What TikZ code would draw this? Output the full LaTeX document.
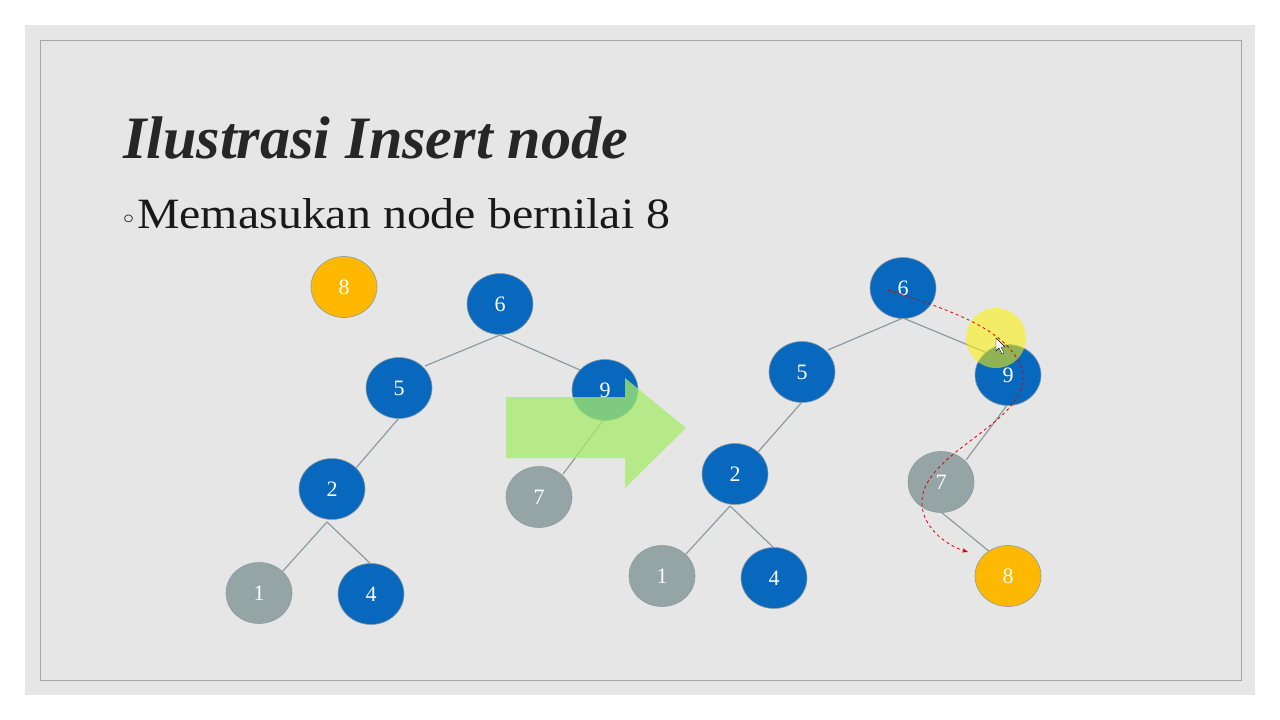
\documentclass[tikz,border=0pt]{standalone}
\usepackage{fontspec}
\setmainfont{Liberation Serif}
\newfontfamily\dv{DejaVu Sans}
\usetikzlibrary{shapes.geometric,arrows.meta}
\definecolor{nblue}{HTML}{0868BE}
\definecolor{ngray}{HTML}{95A5A6}
\definecolor{norange}{HTML}{FFB800}
\definecolor{slide}{HTML}{E6E6E6}
\definecolor{edge}{HTML}{8C9BA0}
\definecolor{garrow}{HTML}{A6EC6A}
\tikzset{
 tn/.style={ellipse,minimum width=66pt,minimum height=61pt,inner sep=0pt,text=white,font=\fontsize{22}{22}\selectfont,draw=edge,line width=0.6pt},
 bl/.style={tn,fill=nblue},
 gr/.style={tn,fill=ngray},
 og/.style={tn,fill=norange},
 ed/.style={draw=edge,line width=1.2pt}
}
\begin{document}
\begin{tikzpicture}[x=1pt,y=-1pt]
\useasboundingbox (0,0) rectangle (1280,720);
\fill[white] (0,0) rectangle (1280,720);
\fill[slide] (25,25) rectangle (1255,695);
\draw[gray!70,line width=0.8pt] (40,40) rectangle (1241,680);
\node[anchor=west,inner sep=0pt,text=black!85] (title) at (123,138) {\resizebox{505pt}{!}{\fontsize{56}{56}\selectfont\bfseries\itshape Ilustrasi Insert node}};
\node[anchor=west,inner sep=0pt,text=black!90] (sub) at (120,214) {\resizebox{550pt}{30pt}{\fontsize{40}{40}\selectfont{\dv\fontsize{24}{24}\selectfont ◦}Memasukan node bernilai 8}};
% left tree
\coordinate (l6b) at (500,335);
\coordinate (l2b) at (327,522);
\draw[ed] (l6b) -- (425,366);
\draw[ed] (l6b) -- (580,370);
\draw[ed] (399,418) -- (356,468);
\draw[ed] (l2b) -- (282,572);
\draw[ed] (l2b) -- (372,565);
\draw[ed] (605,418) -- (563,474);
\node[og] (a8) at (344,287) {8};
\node[bl] (a6) at (500,304) {6};
\node[bl] (a5) at (399,388) {5};
\node[bl] (a9) at (605,390) {9};
\node[bl] (a2) at (332,489) {2};
\node[gr] (a7) at (539,497) {7};
\node[gr] (a1) at (259,593) {1};
\node[bl] (a4) at (371,594) {4};
\fill[garrow,opacity=0.75] (506,397) -- (625,397) -- (625,378) -- (686,428) -- (625,488) -- (625,458) -- (506,458) -- cycle;
% right tree
\coordinate (r6b) at (903,318);
\coordinate (r2b) at (730,506);
\draw[ed] (r6b) -- (828,350);
\draw[ed] (r6b) -- (985,352);
\draw[ed] (802,402) -- (758,452);
\draw[ed] (r2b) -- (686,554);
\draw[ed] (r2b) -- (774,548);
\draw[ed] (1008,404) -- (966,460);
\draw[ed] (941,512) -- (990,552);
\node[bl] (b6) at (903,288) {6};
\node[bl] (b5) at (802,372) {5};
\node[bl] (b9) at (1008,375) {9};
\node[bl] (b2) at (735,474) {2};
\node[gr] (b7) at (941,482) {7};
\node[gr] (b1) at (662,576) {1};
\node[bl] (b4) at (774,578) {4};
\node[og] (b8) at (1008,576) {8};
\fill[yellow,opacity=0.55] (996,338) circle (30);
\draw[red!85!black,dashed,line width=0.8pt,-{Stealth[length=6pt]}] (888,290) .. controls (950,310) and (1010,330) .. (1022,370) .. controls (1035,420) and (925,450) .. (922,500) .. controls (920,525) and (945,545) .. (968,552);
\draw[fill=white,draw=black,line width=0.4pt] (996,338) -- (996,351) -- (999,348) -- (1002,354) -- (1004,353) -- (1001,347) -- (1005,347) -- cycle;
\end{tikzpicture}
\end{document}
